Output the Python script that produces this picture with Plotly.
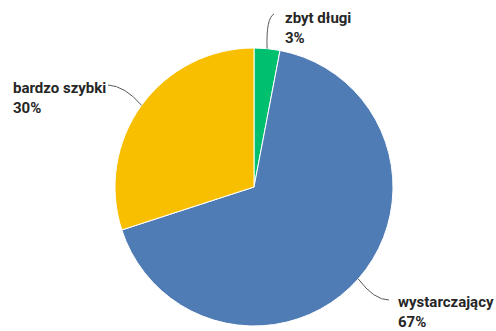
import math
import plotly.graph_objects as go

labels = ["zbyt długi", "wystarczający", "bardzo szybki"]
values = [3, 67, 30]
colors = ["#00BF6F", "#4F7CB5", "#F8BE00"]

W, H = 496, 331
cx, cy, r = 254, 187, 139

dom_x = [(cx - r) / W, (cx + r) / W]
dom_y = [1 - (cy + r) / H, 1 - (cy - r) / H]

fig = go.Figure(go.Pie(
    labels=labels, values=values, sort=False, direction="clockwise", rotation=0,
    marker=dict(colors=colors, line=dict(color="white", width=1)),
    textinfo="none", hoverinfo="label+percent", showlegend=False,
    domain=dict(x=dom_x, y=dom_y),
))

# label text positions (pixels): anchor (left x, top y), leader end point near text
label_pos = {
    "zbyt długi": dict(tx=283, ty=7, lx=274, ly=14, ctrl=(266, 18)),
    "wystarczający": dict(tx=396, ty=291, lx=389, ly=300, ctrl=(374, 300)),
    "bardzo szybki": dict(tx=11, ty=77, lx=108, ly=85, ctrl=(125, 86)),
}

def px2paper(x, y):
    return x / W, 1 - y / H

total = sum(values)
cum = 0
shapes = []
annotations = []
for lab, v in zip(labels, values):
    mid = (cum + v / 2) / total * 2 * math.pi
    cum += v
    ex = cx + r * math.sin(mid)
    ey = cy - r * math.cos(mid)
    p = label_pos[lab]
    pct = round(v / total * 100)
    annotations.append(dict(
        x=p["tx"] / W, y=1 - p["ty"] / H, xref="paper", yref="paper",
        xanchor="left", yanchor="top", align="left", showarrow=False,
        text=f"<b>{lab}</b><br><b>{pct}%</b>",
        font=dict(family="Roboto", size=15, color="#262626"),
    ))
    x0, y0 = px2paper(ex, ey)
    x1, y1 = px2paper(p["lx"], p["ly"])
    qx, qy = px2paper(*p["ctrl"])
    shapes.append(dict(
        type="path", xref="paper", yref="paper",
        path=f"M {x0},{y0} Q {qx},{qy} {x1},{y1}",
        line=dict(color="#595959", width=1),
    ))

fig.update_layout(
    width=W, height=H, margin=dict(l=0, r=0, t=0, b=0),
    paper_bgcolor="white", plot_bgcolor="white",
    annotations=annotations, shapes=shapes,
)

fig.write_html("out.html")
